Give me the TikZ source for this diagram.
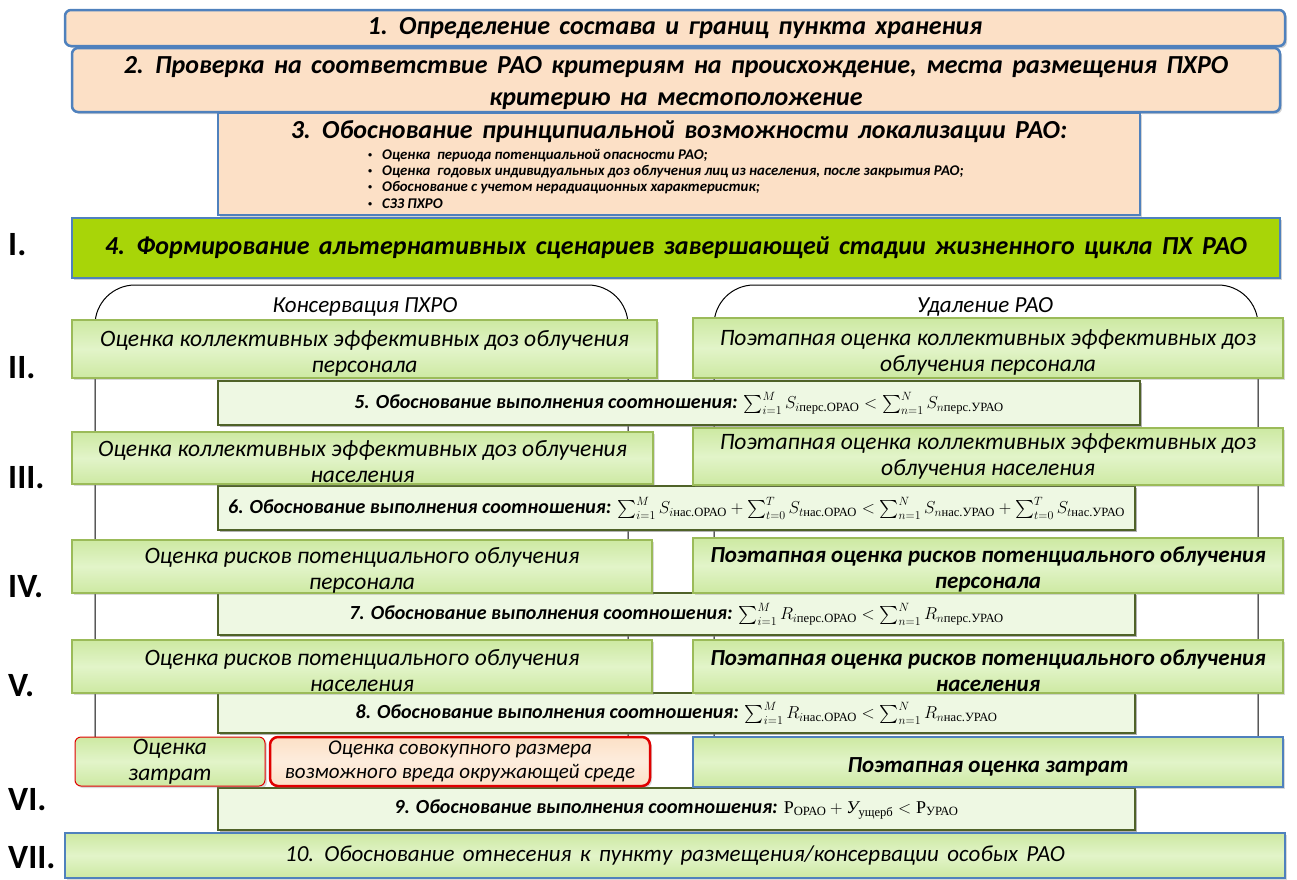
\documentclass[tikz,border=0pt]{standalone}
\usepackage{amsmath, amssymb}
\usepackage{fontspec}
\setmainfont{Carlito}
\newfontfamily\headfont{Carlito}[WordSpace=1.6]
\newfontfamily\romfont{Liberation Serif}
\usepackage{tikz}
\usetikzlibrary{shadows,positioning}

\definecolor{peach}{HTML}{FCE0C6}
\definecolor{boxblue}{HTML}{4F81BD}
\definecolor{limegreen}{HTML}{A8D508}
\definecolor{estimtop}{HTML}{CDE9A2}
\definecolor{estimmid}{HTML}{E2F4C9}
\definecolor{justfill}{HTML}{EEF8E3}
\definecolor{olivegreen}{HTML}{9BBB59}
\definecolor{darkolive}{HTML}{4F6228}
\definecolor{boxred}{HTML}{E00000}

% upright serif subscripts
\newcommand{\ix}[1]{\text{\normalfont\romfont #1}}
% formulas a bit smaller than the text round them
\newcommand{\rel}[1]{{\fontsize{18}{22}\selectfont$#1$}}
% small list bullet
\newcommand{\itembul}{\raisebox{2pt}{\fontsize{8}{8}\selectfont\textbullet}\hspace{10pt}}
% pushes the first line a little down
\newcommand{\topgap}{\rule{0pt}{24pt}}

\tikzset{
  stage/.style = {draw = boxblue, line width = 2.5pt, fill = peach,
    rounded corners = 6pt, inner sep = 0pt, align = center,
    font = \headfont\bfseries\itshape\fontsize{26}{32}\selectfont,
    drop shadow = {opacity = .35, shadow xshift = 2pt, shadow yshift = -2pt}},
  scenario/.style = {draw = boxblue, line width = 2.5pt, fill = limegreen,
    inner sep = 0pt, align = center,
    font = \headfont\bfseries\itshape\fontsize{26}{30}\selectfont,
    drop shadow = {opacity = .35, shadow xshift = 2pt, shadow yshift = -2pt}},
  estim/.style = {draw = olivegreen, line width = 2pt,
    top color = estimtop, bottom color = estimtop, middle color = estimmid,
    inner sep = 0pt, align = center,
    font = \itshape\fontsize{23.5}{26}\selectfont,
    drop shadow = {opacity = .3, shadow xshift = 2pt, shadow yshift = -2pt}},
  boldestim/.style = {estim, font = \bfseries\itshape\fontsize{23}{26}\selectfont},
  justif/.style = {draw = darkolive, line width = 1.5pt, fill = justfill,
    inner sep = 0pt, align = center,
    font = \bfseries\itshape\fontsize{20}{22}\selectfont,
    drop shadow = {opacity = .6, shadow xshift = 2pt, shadow yshift = -2pt}},
  roman/.style = {anchor = west, inner sep = 0pt,
    font = \bfseries\fontsize{34}{34}\selectfont},
  framelbl/.style = {inner sep = 0pt, font = \itshape\fontsize{23}{26}\selectfont},
  frame/.style = {draw = black, line width = 1pt, rounded corners = 40pt}
}

\begin{document}
\begin{tikzpicture}[x = 1pt, y = -1pt]

\useasboundingbox (0,0) rectangle (1297,879);

% the two options
\draw[frame] (95,745) -- (95,285) -- (628,285) -- (628,745);
\draw[frame] (714,745) -- (714,285) -- (1258,285) -- (1258,745);

\node[framelbl] (consLabel) at (365,307) {Консервация ПХРО};
\node[framelbl] (remvLabel) at (985,307) {Удаление РАО};

% common stages
\node[stage, minimum width = 1220pt, minimum height = 36pt] (stage1)
  at (675,28) {1. Определение состава и границ пункта хранения};

\node[stage, minimum width = 1208pt, minimum height = 64pt] (stage2)
  at (676,80) {\topgap 2. Проверка на соответствие РАО критериям на происхождение, места размещения ПХРО\\
  критерию на местоположение};

\node[stage, rounded corners = 0pt, line width = 2pt,
      minimum width = 922pt, minimum height = 102pt] (stage3) at (679,164) {};
\node[font = \headfont\bfseries\itshape\fontsize{26}{30}\selectfont, inner sep = 0pt]
  (stage3title) at (679,132) {3. Обоснование принципиальной возможности локализации РАО:};
\node[anchor = north west, align = left, inner sep = 0pt,
      font = \bfseries\itshape\fontsize{14.8}{16.3}\selectfont] (stage3list) at (368,149)
  {\itembul Оценка\ \ периода потенциальной опасности РАО;\\
   \itembul Оценка\ \ годовых индивидуальных доз облучения лиц из населения, после закрытия РАО;\\
   \itembul Обоснование с учетом нерадиационных характеристик;\\
   \itembul СЗЗ ПХРО};

\node[scenario, minimum width = 1208pt, minimum height = 60pt] (stage4)
  at (676,248) {4. Формирование альтернативных сценариев завершающей стадии жизненного цикла ПХ РАО};

% justifications (under the estimates)
\node[justif, minimum width = 922pt, minimum height = 44pt] (just5) at (679,403)
  {5. Обоснование выполнения соотношения: \rel{\sum_{i=1}^{M} S_{i\ix{перс.ОРАО}} < \sum_{n=1}^{N} S_{n\ix{перс.УРАО}}}};
\node[justif, minimum width = 917pt, minimum height = 44pt] (just6) at (676.5,508)
  {6. Обоснование выполнения соотношения: \rel{\sum_{i=1}^{M} S_{i\ix{нас.ОРАО}} + \sum_{t=0}^{T} S_{t\ix{нас.ОРАО}} < \sum_{n=1}^{N} S_{n\ix{нас.УРАО}} + \sum_{t=0}^{T} S_{t\ix{нас.УРАО}}}};
\node[justif, minimum width = 917pt, minimum height = 42pt] (just7) at (676.5,614)
  {7. Обоснование выполнения соотношения: \rel{\sum_{i=1}^{M} R_{i\ix{перс.ОРАО}} < \sum_{n=1}^{N} R_{n\ix{перс.УРАО}}}};
\node[justif, minimum width = 917pt, minimum height = 40pt] (just8) at (676.5,713)
  {8. Обоснование выполнения соотношения: \rel{\sum_{i=1}^{M} R_{i\ix{нас.ОРАО}} < \sum_{n=1}^{N} R_{n\ix{нас.УРАО}}}};
\node[justif, minimum width = 917pt, minimum height = 42pt] (just9) at (676.5,809)
  {9. Обоснование выполнения соотношения: \rel{\ix{Р}_{\ix{ОРАО}} + \text{\normalfont\romfont\itshape У}_{\ix{ущерб}} < \ix{Р}_{\ix{УРАО}}}};

% estimates, conservation
\node[estim, minimum width = 585pt, minimum height = 58pt] (cons2) at (364.5,349)
  {\topgap Оценка коллективных эффективных доз облучения\\ персонала};
\node[estim, minimum width = 581pt, minimum height = 52pt] (cons3) at (362.5,458)
  {\topgap Оценка коллективных эффективных доз облучения\\ населения};
\node[estim, minimum width = 580pt, minimum height = 53pt] (cons4) at (362,566.5)
  {\topgap Оценка рисков потенциального облучения\\ персонала};
\node[estim, minimum width = 580pt, minimum height = 53pt] (cons5) at (362,666.5)
  {\topgap Оценка рисков потенциального облучения\\ населения};

% estimates, removal
\node[estim, minimum width = 590pt, minimum height = 60pt] (remv2) at (988,348)
  {\topgap Поэтапная оценка коллективных эффективных доз\\ облучения персонала};
\node[estim, minimum width = 590pt, minimum height = 57pt] (remv3) at (988,456.5)
  {Поэтапная оценка коллективных эффективных доз\\ облучения населения};
\node[boldestim, minimum width = 590pt, minimum height = 55pt] (remv4) at (988,565.5)
  {\topgap Поэтапная оценка рисков потенциального облучения\\ персонала};
\node[boldestim, minimum width = 590pt, minimum height = 53pt] (remv5) at (988,666.5)
  {\topgap Поэтапная оценка рисков потенциального облучения\\ населения};

% costs
\node[estim, draw = boxred, line width = 1pt, rounded corners = 6pt,
      minimum width = 190pt, minimum height = 49pt] (consCost) at (170,761.5) {Оценка\\ затрат};
\node[estim, draw = boxred, line width = 2.5pt, rounded corners = 8pt,
      top color = peach, bottom color = peach, middle color = peach!60,
      font = \itshape\fontsize{21}{24}\selectfont,
      minimum width = 380pt, minimum height = 49pt] (consHarm) at (460,761.5)
  {Оценка совокупного размера\\ возможного вреда окружающей среде};
\node[boldestim, draw = boxblue, line width = 2.5pt,
      minimum width = 590pt, minimum height = 50pt] (remvCost) at (988,762) {\topgap Поэтапная оценка затрат};

% final stage
\node[estim, draw = boxblue, line width = 2.5pt, font = \headfont\itshape\fontsize{23}{26}\selectfont,
      minimum width = 1220pt, minimum height = 45pt] (stage10) at (675,855.5)
  {10. Обоснование отнесения к пункту размещения/консервации особых РАО};

% levels
\node[roman] (romI) at (8,245) {I.};
\node[roman] (romII) at (8,368) {II.};
\node[roman] (romIII) at (8,478) {III.};
\node[roman] (romIV) at (8,587) {IV.};
\node[roman] (romV) at (8,686) {V.};
\node[roman] (romVI) at (8,800) {VI.};
\node[roman] (romVII) at (8,858) {VII.};

\end{tikzpicture}
\end{document}
